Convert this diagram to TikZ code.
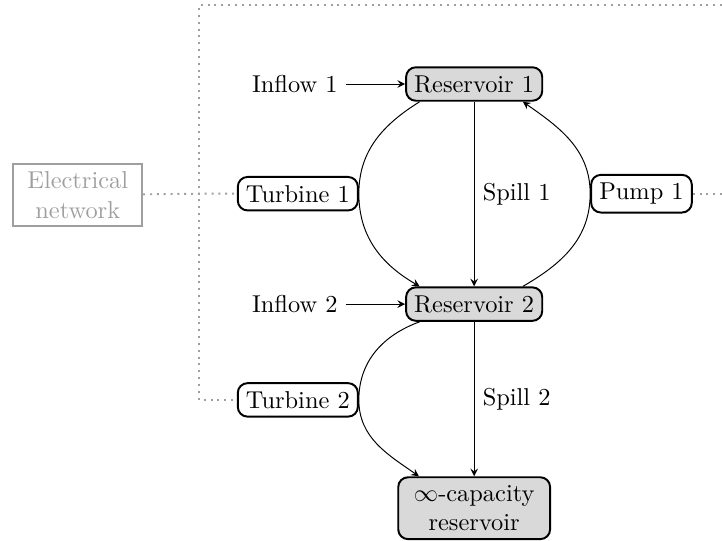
\documentclass[tikz,border=0pt]{standalone}
\usepackage{amsmath,amssymb}
\usepackage{xcolor}
\usepackage{tikz}
\usetikzlibrary{positioning,arrows}

\begin{document}
\begin{tikzpicture}[>=stealth,
  res/.style={draw,thick,rounded corners,fill=gray!30},
  unit/.style={draw,thick,rounded corners,fill=white},
  grid/.style={draw=gray!75,text=gray!75,thick,align=center,inner xsep=5.8pt},
  link/.style={gray!75,thick,dotted}]
\useasboundingbox (0,0) rectangle (10.4,7.78);
% reservoirs
\node[res] (res1) at (6.83,6.57) {Reservoir 1};
\node[res] (res2) at (6.83,3.40) {Reservoir 2};
\node[res,align=center,inner xsep=6.4pt] (resinf) at (6.83,0.46) {$\infty$-capacity\\reservoir};
% inflows
\node[left=0.85cm of res1] (in1) {Inflow 1};
\node[left=0.85cm of res2] (in2) {Inflow 2};
% turbines and pump
\node[unit] (turb1) at (4.29,4.99) {Turbine 1};
\node[unit] (pump1) at (9.24,4.99) {Pump 1};
\node[unit] (turb2) at (4.29,2.02) {Turbine 2};
\node[grid] (elec) at (1.12,4.97) {Electrical\\network};
% electrical links
\coordinate (jtop) at (2.87,7.71);
\coordinate (jmid) at (2.87,4.99);
\coordinate (jbot) at (2.87,2.02);
\coordinate (etop) at (10.4,7.71);
\coordinate (eright) at (10.4,4.99);
\draw[link] (elec) -- (jmid) -- (turb1);
\draw[link] (etop) -- (jtop) -- (jbot) -- (turb2);
\draw[link] (pump1) -- (eright);
% water flows
\draw[->] (in1) -- (res1);
\draw[->] (in2) -- (res2);
\draw[->] (res1) -- node[right] {Spill 1} (res2);
\draw[->] (res2) -- node[right] {Spill 2} (resinf);
\draw[->] (res1.198) to[out=212,in=90] (turb1.east)
      to[out=-90,in=150] (res2.162);
\draw[->] (res2.20) to[out=30,in=-90] (pump1.west)
      to[out=90,in=-35] (res1.-20);
\draw[->] (res2.198) to[out=200,in=90] (turb2.east)
      to[out=-90,in=145] (resinf.150);
\end{tikzpicture}
\end{document}
